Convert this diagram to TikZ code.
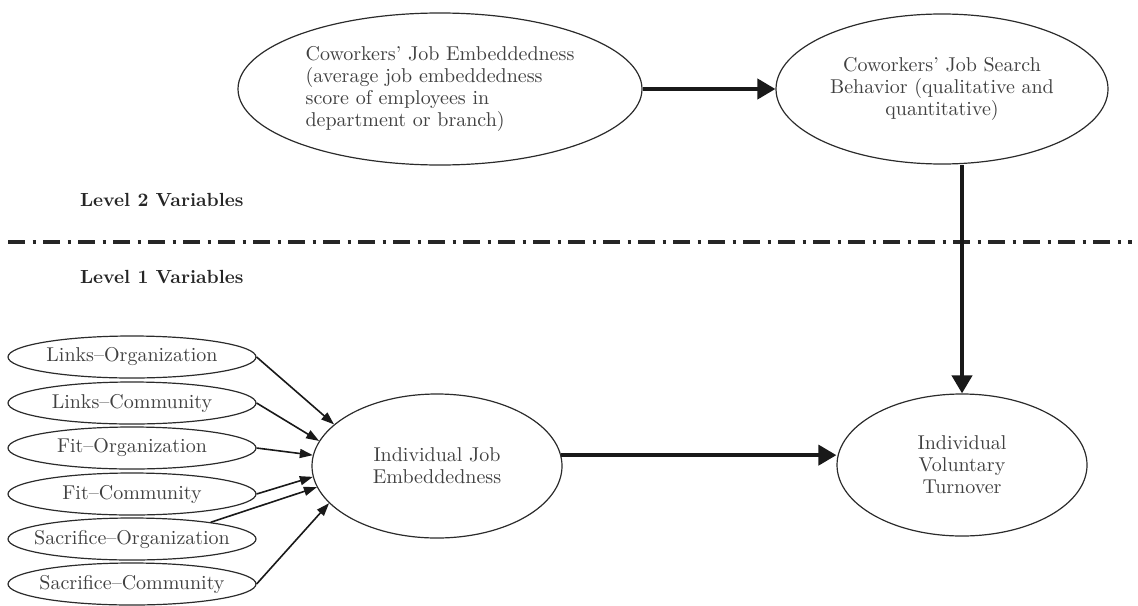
\documentclass[tikz,border=0pt]{standalone}
\usepackage{xcolor}
\usepackage{tikz}
\usetikzlibrary{shapes.geometric,arrows.meta}
\definecolor{TXT}{HTML}{404040}
\definecolor{LNE}{HTML}{2b2b2b}
\tikzset{%
  oval/.style={ellipse, draw=LNE, line width=0.6pt, inner sep=0pt, text=TXT, font=\fontsize{10}{11}\selectfont, align=center},%
  dimoval/.style={oval, inner xsep=-7pt, minimum width=124pt, minimum height=21pt},%
  levellabel/.style={anchor=west, text=black!85, font=\fontsize{9.5}{11}\selectfont\bfseries},%
  bigarrow/.style={draw=black!90, line width=2pt, -{Triangle[length=9pt,width=10pt]}},%
  smallarrow/.style={draw=black!90, line width=0.8pt, -{Triangle[length=6.5pt,width=4.5pt]}},%
  levelline/.style={draw=black!85, line width=2pt, dash pattern=on 8.5pt off 3.75pt on 1.5pt off 3.75pt}%
}
\begin{document}
\begin{tikzpicture}[x=0.5pt, y=-0.5pt]%
\useasboundingbox (0,0) rectangle (1138,605);%
% level 2
\node[oval, align=left, minimum width=202pt, minimum height=76pt] (cje) at (440,89) {Coworkers’ Job Embeddedness\\(average job embeddedness\\score of employees in\\department or branch)};%
\node[oval, minimum width=166pt, minimum height=75pt] (cjs) at (942,89) {Coworkers’ Job Search\\Behavior (qualitative and\\quantitative)};%
\node[levellabel] (lvtwo) at (73,200) {Level 2 Variables};%
\draw[levelline] (8,242) -- (1132,242);%
\node[levellabel] (lvone) at (73,277) {Level 1 Variables};%
% level 1
\node[oval, minimum width=125pt, minimum height=72pt] (ije) at (437,466) {Individual Job\\Embeddedness};%
\node[oval, minimum width=125pt, minimum height=71pt] (ivt) at (962,465) {Individual\\Voluntary\\Turnover};%
\node[dimoval] (lo) at (132,357) {Links–Organization};%
\node[dimoval] (lc) at (132,403) {Links–Community};%
\node[dimoval] (fo) at (132,448) {Fit–Organization};%
\node[dimoval] (fc) at (132,494) {Fit–Community};%
\node[dimoval] (so) at (132,539) {Sacrifice–Organization};%
\node[dimoval] (sc) at (132,584) {Sacrifice–Community};%
% paths
\draw[bigarrow] (cje.east) -- (cjs.west);%
\draw[bigarrow] (ivt.north |- cjs.south) -- (ivt.north);%
\draw[bigarrow] (ije.5) -- (ije.5 -| ivt.west);%
\draw[smallarrow] (lo.east) -- (ije.158);%
\draw[smallarrow] (lc.east) -- (ije.168);%
\draw[smallarrow] (fo.east) -- (ije.175);%
\draw[smallarrow] (fc.east) -- (ije.185);%
\draw[smallarrow] (so.12) -- (ije.190);%
\draw[smallarrow] (sc.east) -- (ije.199);%
\end{tikzpicture}
\end{document}
